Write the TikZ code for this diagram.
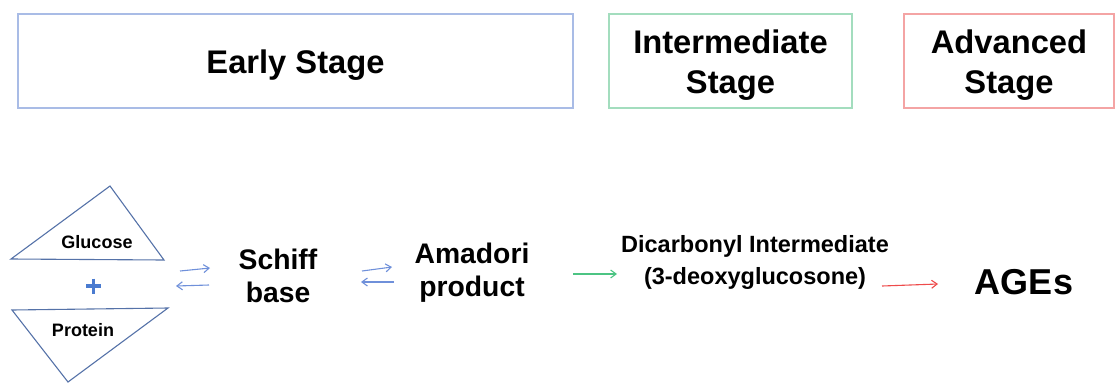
\documentclass[tikz,border=0pt]{standalone}
\usepackage{fontspec}
\setmainfont{Liberation Sans}
\usetikzlibrary{arrows.meta}
\definecolor{eblue}{HTML}{A9BCE6}
\definecolor{igreen}{HTML}{A3DDBE}
\definecolor{ared}{HTML}{F4A4A4}
\definecolor{arblue}{HTML}{6F90DA}
\definecolor{argreen}{HTML}{4CC483}
\definecolor{arred}{HTML}{EE4B4B}
\definecolor{plusblue}{HTML}{4A7BD0}
\definecolor{triblue}{HTML}{5572A8}
\tikzset{
  stagebox/.style={draw, line width=1.3pt, inner sep=0pt, minimum height=94pt},
  stagetext/.style={inner sep=0pt, font=\bfseries\fontsize{32.7}{40}\selectfont, align=center},
  lbl/.style={font=\bfseries\fontsize{28.3}{33}\selectfont, align=center, inner sep=0pt},
  small/.style={font=\bfseries\fontsize{18}{20}\selectfont, inner sep=0pt},
  rxn/.style={line width=1.1pt, -{Straight Barb[length=5.5pt,width=8pt]}},
  tri/.style={draw=triblue, line width=1.1pt, line join=miter}
}
\begin{document}
\begin{tikzpicture}[x=1pt,y=-1pt]
\useasboundingbox (0,0) rectangle (1115,383);
% stage boxes
\node[stagebox, draw=eblue, minimum width=555pt] (early) at (295.5,61) {};
\node[stagebox, draw=igreen, minimum width=243pt] (inter) at (730.5,61) {};
\node[stagebox, draw=ared, minimum width=210pt] (adv) at (1009,61) {};
\node[stagetext] (earlyt) at ([yshift=-4pt]early.center) {Early Stage};
\node[stagetext] (intert) at ([yshift=-4pt]inter.center) {Intermediate\\Stage};
\node[stagetext] (advt) at ([yshift=-4pt]adv.center) {Advanced\\Stage};
% triangles
\draw[tri] (11,259) -- (110,186) -- (164,260) -- cycle;
\draw[tri] (12,310) -- (168,308) -- (68,382) -- cycle;
\node[small] (glu) at (97,242) {Glucose};
\node[small] (pro) at (83,330) {Protein};
% plus
\draw[plusblue, line width=3.8pt] (86,286) -- (101,286) (93.5,278.5) -- (93.5,293.5);
% labels
\node[lbl] (schiff) at (278,276) {Schiff\\base};
\node[lbl] (amadori) at (472,273) {Amadori\\product};
\node[font=\bfseries\fontsize{23.5}{32}\selectfont, align=center, inner sep=0pt] (dic) at (755,262) {Dicarbonyl Intermediate\\(3-deoxyglucosone)};
\node[font=\bfseries\fontsize{36}{40}\selectfont, inner sep=0pt] (ages) at (1024,282) {AGEs};
% arrow endpoints
\coordinate (a1s) at (180,271); \coordinate (a1e) at (210,268);
\coordinate (b1s) at (209,285); \coordinate (b1e) at (176,286);
\coordinate (a2s) at (362,271); \coordinate (a2e) at (392,267);
\coordinate (b2s) at (394,282); \coordinate (b2e) at (361,282);
\coordinate (gs) at (573,274); \coordinate (ge) at (617,274);
\coordinate (rs) at (882,286); \coordinate (re) at (938,284);
\draw[rxn, arblue] (a1s) -- (a1e);
\draw[rxn, arblue] (b1s) -- (b1e);
\draw[rxn, arblue] (a2s) -- (a2e);
\draw[rxn, arblue] (b2s) -- (b2e);
\draw[rxn, argreen] (gs) -- (ge);
\draw[rxn, arred] (rs) -- (re);
\end{tikzpicture}
\end{document}
